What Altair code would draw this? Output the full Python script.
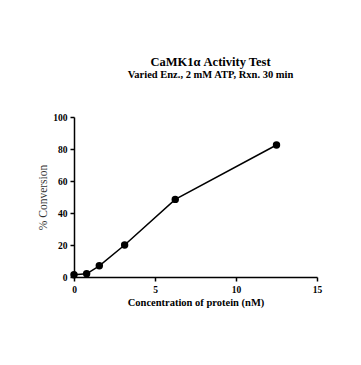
import altair as alt
import pandas as pd

conc = [0, 0.78, 1.5625, 3.125, 6.25, 12.5]
conversion = [1.4, 2.0, 7.0, 20.0, 48.5, 82.5]
x_ticks = [0, 5, 10, 15]
y_ticks = [0, 20, 40, 60, 80, 100]

df = pd.DataFrame({"conc": conc, "conv": conversion})

FONT = "Liberation Serif"

x = alt.X("conc:Q", scale=alt.Scale(domain=[0, 15], nice=False),
          axis=alt.Axis(values=x_ticks, title="Concentration of protein (nM)",
                        titleFontWeight="bold", titleFontSize=10.5, titlePadding=4,
                        labelFlush=False))
y = alt.Y("conv:Q", scale=alt.Scale(domain=[0, 100], nice=False),
          axis=alt.Axis(values=y_ticks, title="% Conversion",
                        titleFontWeight="normal", titleFontSize=11.5, titlePadding=4,
                        titleColor="#333333", labelFlush=False))

base = alt.Chart(df).encode(x=x, y=y)
line = base.mark_line(color="black", strokeWidth=1.5)
pts = base.mark_circle(color="black", opacity=1, size=55)

chart = (line + pts).properties(
    width=243, height=160,
    title=alt.TitleParams(
        text="CaMK1α Activity Test",
        subtitle="Varied Enz., 2 mM ATP, Rxn. 30 min",
        font=FONT, fontSize=12.5, fontWeight="bold", color="black",
        subtitleFont=FONT, subtitleFontSize=10.5, subtitleFontWeight="bold",
        subtitleColor="black", anchor="middle", offset=32, dx=15, subtitlePadding=1,
    ),
    autosize=alt.AutoSizeParams(type="none"),
    padding={"left": 66, "top": 109, "right": 30, "bottom": 50},
).configure_view(stroke=None).configure_axis(
    grid=False, domainColor="black", domainWidth=1.5, tickColor="black",
    tickWidth=1.5, tickSize=4, labelFont=FONT, labelFontWeight="bold",
    labelFontSize=9.5, labelColor="black", titleFont=FONT,
    labelPadding=3,
)

chart.save("out.html", embed_options={"renderer": "svg", "actions": False})
